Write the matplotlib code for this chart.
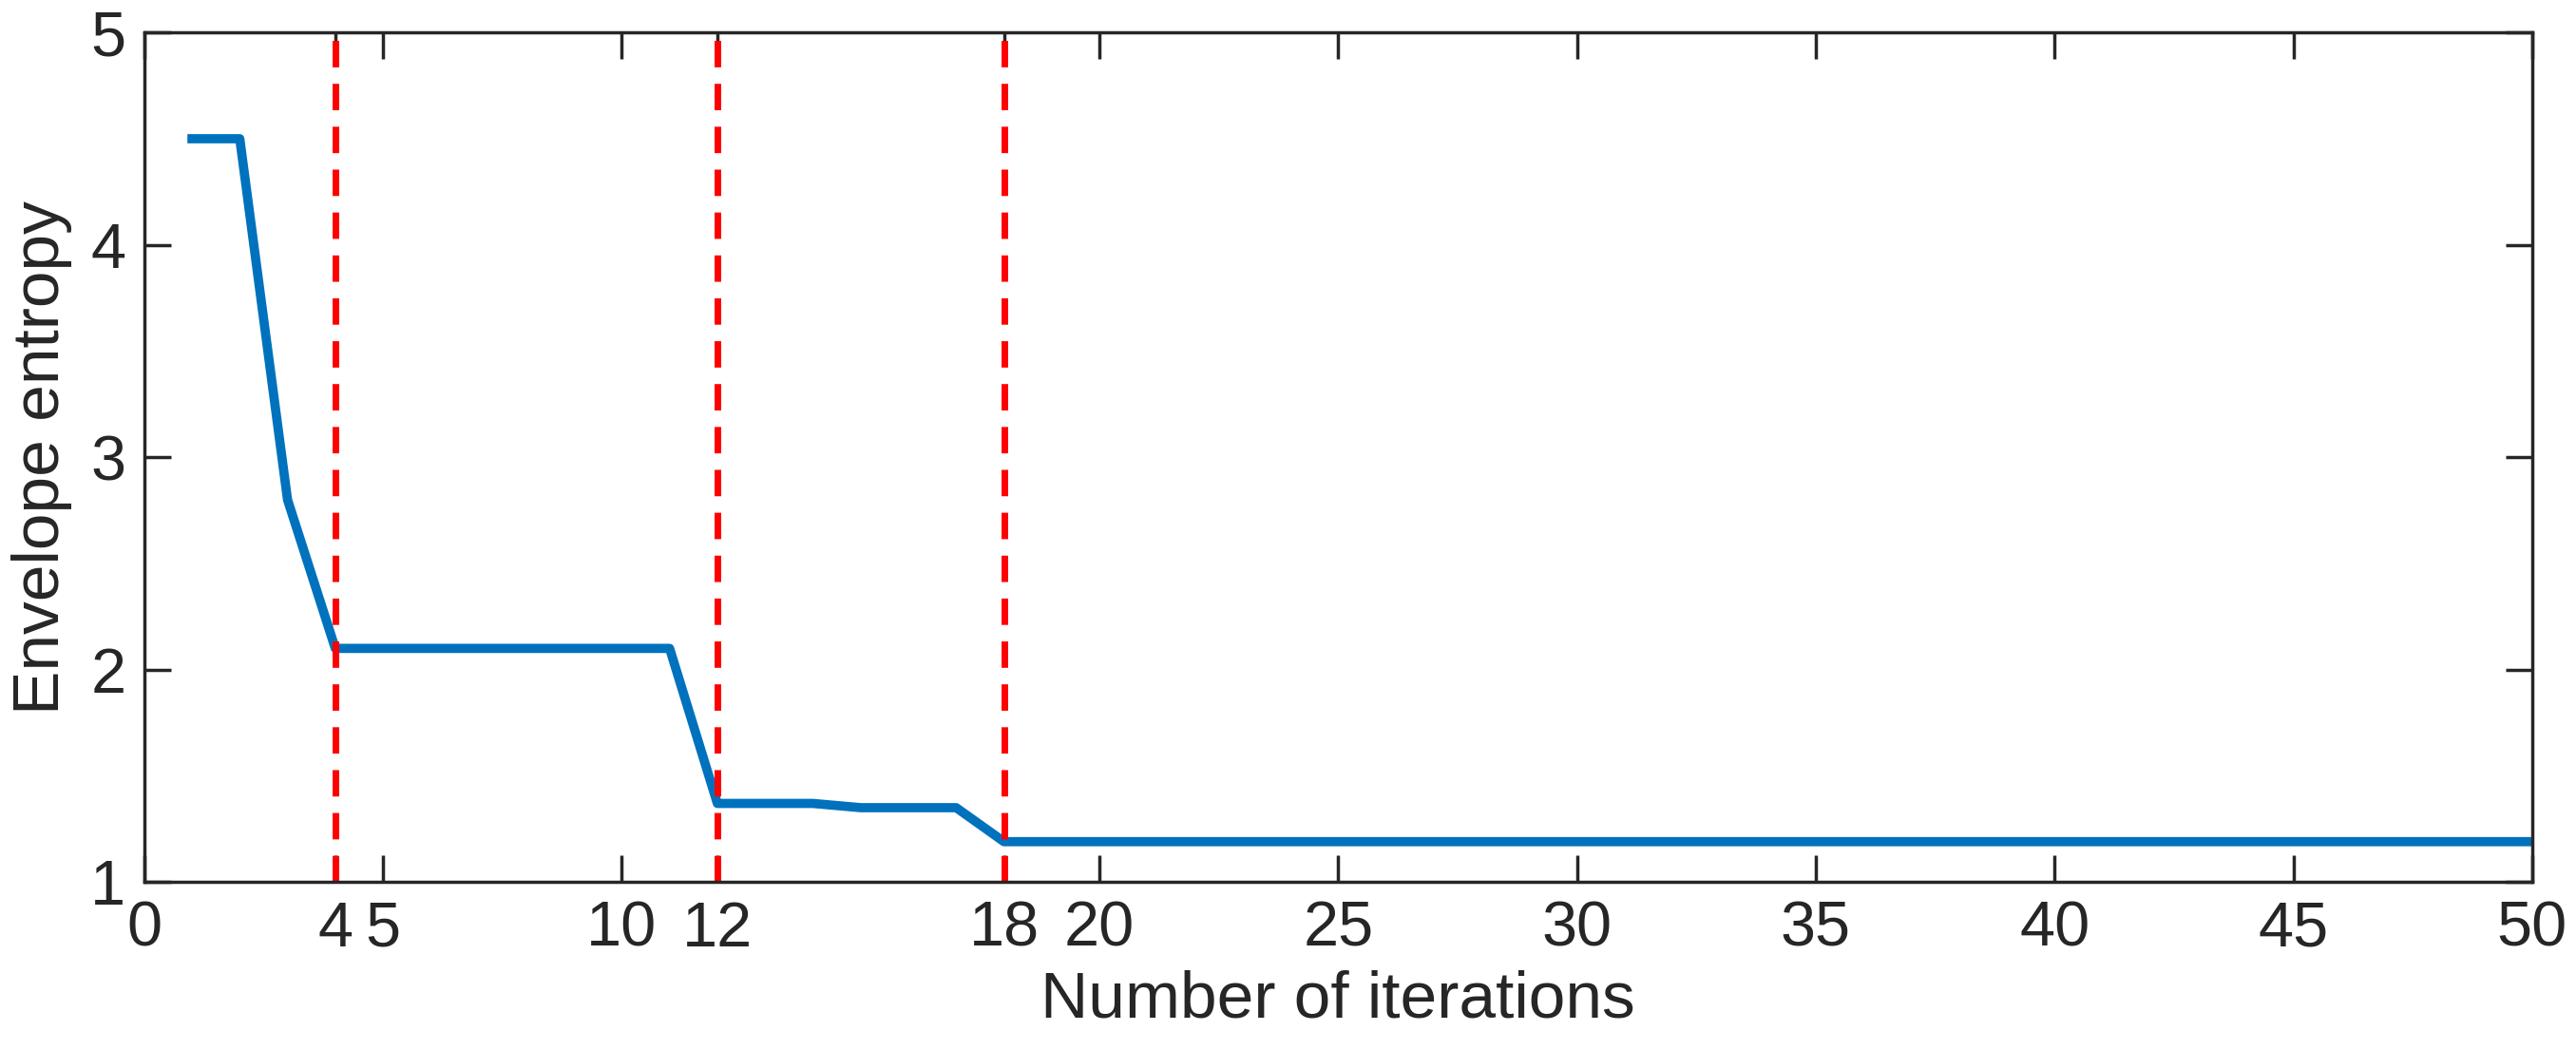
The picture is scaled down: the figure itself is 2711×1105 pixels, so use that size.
import matplotlib
matplotlib.use("Agg")
import matplotlib.pyplot as plt

iterations = list(range(1, 51))
entropy = [4.5, 4.5, 2.8, 2.1] + [2.1]*7 + [1.37, 1.37, 1.37, 1.35, 1.35, 1.35] + [1.19]*33
vlines = [4, 12, 18]
xticks = [0, 4, 5, 10, 12, 18, 20, 25, 30, 35, 40, 45, 50]
yticks = [1, 2, 3, 4, 5]

plt.rcParams['font.family'] = ['Liberation Sans', 'DejaVu Sans']
fig = plt.figure(figsize=(27.11, 11.05), dpi=100)
ax = fig.add_axes([0.056, 0.16, 0.927, 0.809])
ax.plot(iterations, entropy, color='#0072BD', lw=7)
for v in vlines:
    ax.axvline(v, color='red', ls=(0, (4, 2.5)), lw=5)
ax.set_xlim(0, 50)
ax.set_ylim(1, 5)
ax.set_xticks(xticks)
ax.set_yticks(yticks)
ax.tick_params(direction='in', top=True, right=True, length=20, width=2.5,
               labelsize=48, pad=14, colors='#262626')
for s in ax.spines.values():
    s.set_linewidth(2.5)
    s.set_color('#262626')
ax.set_xlabel('Number of iterations', fontsize=50, color='#262626', labelpad=8)
ax.set_ylabel('Envelope entropy', fontsize=50, color='#262626', labelpad=14)
fig.savefig('out.png', dpi=100)
